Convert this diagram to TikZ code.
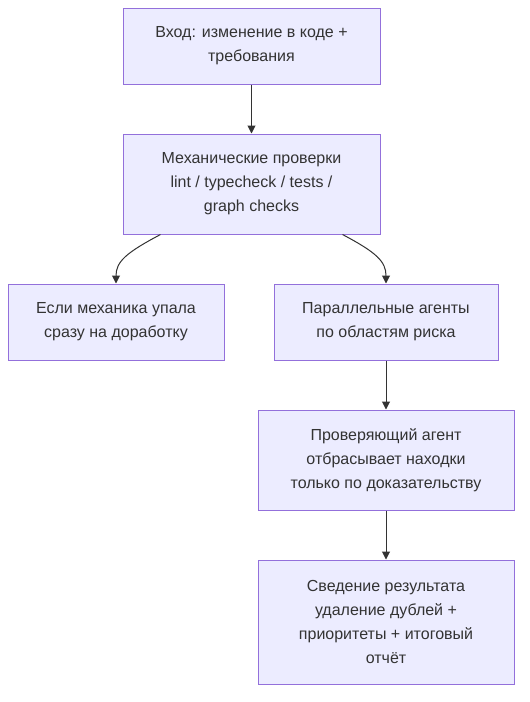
\documentclass[tikz,border=0pt]{standalone}
\usepackage{fontspec}
\setmainfont{Liberation Sans}
\usepackage{tikz}
\usetikzlibrary{arrows.meta}
\definecolor{boxfill}{HTML}{ECECFF}
\definecolor{boxborder}{HTML}{9370DB}
\definecolor{textgrey}{HTML}{333333}
\definecolor{linegrey}{HTML}{333333}

\begin{document}
\begin{tikzpicture}[
        x=1pt, y=-1pt,
        box/.style={rectangle, draw=boxborder, line width=1pt, fill=boxfill, text=textgrey, align=center, inner sep=0pt, font=\fontsize{16}{24}\selectfont, execute at begin node={\rule{0pt}{19pt}}},
        flow/.style={-{Triangle[length=8pt,width=8pt]}, line width=1pt, color=linegrey}
    ]
    \useasboundingbox (0,0) rectangle (530,702);

    % Boxes - top to bottom
    \node[box, minimum width=257pt, minimum height=76pt] (input) at (251.5, 46) {Вход: изменение в коде +\\требования};
    \node[box, minimum width=257pt, minimum height=100pt] (mech) at (251.5, 184) {Механические проверки\\lint / typecheck / tests /\\graph checks};
    \node[box, minimum width=216pt, minimum height=76pt] (fail) at (116, 322) {Если механика упала\\сразу на доработку};
    \node[box, minimum width=224pt, minimum height=76pt] (agents) at (386, 322) {Параллельные агенты\\по областям риска};
    \node[box, minimum width=256pt, minimum height=100pt] (verify) at (386, 460) {Проверяющий агент\\отбрасывает находки\\только по доказательству};
    \node[box, minimum width=256pt, minimum height=124pt] (merge) at (386, 622) {Сведение результата\\удаление дублей +\\приоритеты + итоговый\\отчёт};

    % Connectors
    \draw[flow] (input) -- (mech);
    \draw[flow] ([xshift=-91pt]mech.south) .. controls +(-34,18) and +(0,-22) .. (fail.north);
    \draw[flow] ([xshift=91pt]mech.south) .. controls +(34,18) and +(0,-22) .. (agents.north);
    \draw[flow] (agents) -- (verify);
    \draw[flow] (verify) -- (merge);

\end{tikzpicture}
\end{document}
